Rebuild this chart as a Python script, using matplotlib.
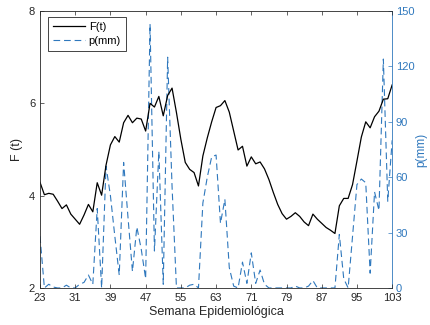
import matplotlib
matplotlib.use("Agg")
import matplotlib.pyplot as plt
import numpy as np

plt.rcParams.update({
    "font.family": ["Liberation Sans", "DejaVu Sans"],
    "font.size": 8,
    "xtick.direction": "in",
    "ytick.direction": "in",
})

# epidemiological weeks
weeks = np.arange(23, 104)

# F(t), left axis
f_t = [
    4.29, 4.02, 4.05, 4.03, 3.88, 3.72, 3.80, 3.60, 3.49, 3.38,
    3.58, 3.81, 3.65, 4.28, 4.01, 4.66, 5.10, 5.28, 5.16, 5.58,
    5.74, 5.58, 5.68, 5.66, 5.40, 6.00, 5.92, 6.15, 5.73, 6.17,
    6.33, 5.80, 5.22, 4.72, 4.57, 4.50, 4.21, 4.86, 5.25, 5.60,
    5.91, 5.95, 6.06, 5.81, 5.40, 4.99, 5.07, 4.64, 4.84, 4.69,
    4.73, 4.58, 4.35, 4.07, 3.81, 3.61, 3.49, 3.55, 3.63, 3.55,
    3.43, 3.35, 3.60, 3.49, 3.40, 3.31, 3.25, 3.18, 3.78, 3.94,
    3.94, 4.24, 4.75, 5.27, 5.60, 5.47, 5.71, 5.83, 6.09, 6.10,
    6.40,
]

# precipitation p(mm), right axis
p_mm = [
    28, 0, 2, 0.5, 0, 0, 1.5, 0, 0, 2,
    3, 7, 2, 43, 0, 66, 50, 28, 7, 68,
    38, 9, 33, 21, 5, 143, 20, 74, 2, 125,
    55, 0, 0, 0, 1.5, 2, 0, 46, 60, 71,
    72, 35, 48, 11, 1, 0, 14, 2.5, 19, 2.5,
    9.7, 2, 0, 0, 0, 0, 0, 0, 1, 0,
    0, 1, 4, 0, 0, 0, 0, 0, 29, 5,
    0, 28, 56, 59, 57, 8, 52, 42, 124, 47,
    80,
]

xticks = [23, 31, 39, 47, 55, 63, 71, 79, 87, 95, 103]

BLUE = "#2f78bd"
GRAY = "#262626"

fig = plt.figure(figsize=(4.3, 3.25), dpi=100)
ax = fig.add_axes([0.093, 0.114, 0.819, 0.852])
ax2 = ax.twinx()

l1, = ax.plot(weeks, f_t, color="black", lw=0.9, label="F(t)")
l2, = ax2.plot(weeks, p_mm, color=BLUE, lw=0.8, ls=(0, (6, 3.5)), label="p(mm)")

ax.set_xlim(23, 103)
ax.set_ylim(2, 8)
ax.set_xticks(xticks)
ax.set_yticks([2, 4, 6, 8])
ax2.set_ylim(0, 150)
ax2.set_yticks([0, 30, 60, 90, 120, 150])

ax.tick_params(axis="both", length=3, width=0.5, colors=GRAY, labelsize=8, top=True)
ax2.tick_params(axis="y", length=3, width=0.5, colors=BLUE, labelsize=8, pad=2.5)

for s in ["top", "bottom", "left"]:
    ax.spines[s].set_color(GRAY)
    ax.spines[s].set_linewidth(0.6)
ax2.spines["right"].set_color(BLUE)
ax2.spines["right"].set_linewidth(0.6)
ax2.spines["left"].set_visible(False)
ax2.spines["top"].set_visible(False)
ax2.spines["bottom"].set_visible(False)
ax.spines["right"].set_visible(False)

ax.set_xlabel("Semana Epidemiológica", fontsize=9, color=GRAY, labelpad=2)
ax.set_ylabel("F (t)", fontsize=9, color=GRAY, labelpad=4)
ax2.set_ylabel("p(mm)", fontsize=8.5, color=BLUE, labelpad=1, rotation=90)

leg = ax.legend(handles=[l1, l2], loc="upper left", bbox_to_anchor=(0.023, 0.978),
                borderaxespad=0, fontsize=8, handlelength=2.9, handletextpad=0.3,
                borderpad=0.45, labelspacing=0.35, fancybox=False, framealpha=1)
leg.get_frame().set_edgecolor(GRAY)
leg.get_frame().set_linewidth(0.6)
ax.set_zorder(ax2.get_zorder() + 1)
ax.patch.set_visible(False)

fig.savefig("out.png", dpi=100)
